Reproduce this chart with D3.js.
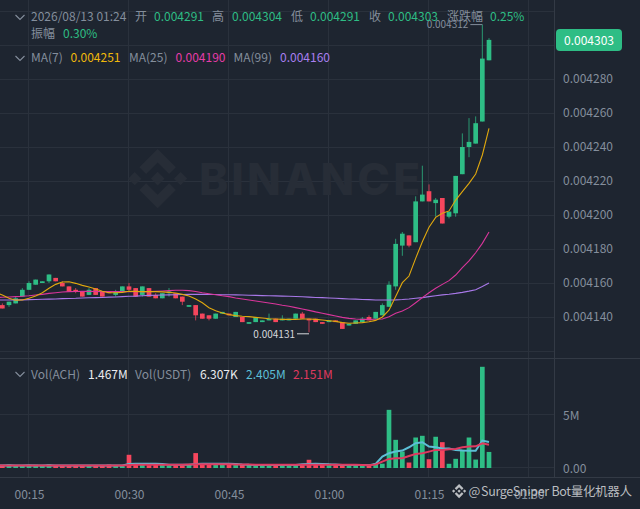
<!DOCTYPE html>
<html><head><meta charset="utf-8">
<script src="https://cdn.jsdelivr.net/npm/d3@7"></script>
<style>
html,body{margin:0;padding:0;background:#1e2530;overflow:hidden}
svg{display:block}
text{font-family:"Noto Sans CJK SC","Noto Sans",sans-serif;font-size:12px}
</style></head><body><svg id="c" width="640" height="509"></svg>
<script>
// prices in units of 0.000001
const opens=[4147,4147,4148,4152,4156,4159,4160,4161,4163,4160,4158,4156,4155,4153,4157,4155,4155,4153,4155,4158,4157,4153,4157,4153,4151,4154,4154,4152,4146,4147,4142,4141,4139,4142,4142,4140,4140,4136,4137,4137,4138,4139,4138,4138,4139,4142,4139,4139,4137,4137,4138,4137,4135,4136,4137,4140,4139,4141,4146,4158,4182,4188,4184,4208,4214,4207,4210,4199,4201,4224,4240,4242,4255,4291];
const highs=[4148,4149,4152,4157,4161,4162,4161,4165,4163,4161,4158,4157,4155,4157,4157,4155,4155,4156,4158,4160,4157,4158,4157,4154,4154,4157,4154,4152,4147,4147,4142,4141,4142,4143,4142,4143,4140,4137,4140,4138,4142,4139,4141,4139,4142,4143,4139,4139,4137,4138,4138,4137,4136,4138,4140,4141,4143,4148,4161,4186,4190,4188,4211,4229,4218,4210,4210,4202,4223,4248,4257,4258,4312,4304];
const lows=[4145,4146,4148,4152,4156,4159,4160,4160,4161,4158,4155,4154,4152,4153,4153,4152,4154,4152,4155,4155,4152,4152,4152,4151,4151,4152,4151,4147,4146,4138,4139,4138,4139,4142,4141,4140,4137,4136,4137,4137,4138,4137,4138,4138,4139,4139,4131,4137,4136,4137,4137,4133,4135,4136,4137,4138,4139,4141,4146,4156,4176,4181,4184,4208,4208,4199,4195,4198,4199,4224,4234,4242,4255,4291];
const closes=[4145,4149,4151,4156,4160,4162,4161,4165,4161,4158,4155,4155,4152,4156,4153,4152,4154,4155,4158,4156,4152,4158,4152,4151,4154,4155,4151,4149,4147,4141,4139,4139,4142,4143,4141,4143,4137,4137,4140,4138,4139,4137,4139,4139,4142,4139,4138,4137,4136,4138,4137,4133,4136,4138,4139,4138,4143,4147,4159,4183,4189,4182,4208,4212,4208,4209,4195,4202,4223,4240,4243,4254,4292,4303];
// moving averages start one minute before the first candle
const ma7=[4154.5,4152.9,4151,4149.9,4150,4151,4152.4,4154.3,4156.9,4159.2,4160.6,4160.7,4159.8,4158.6,4157.6,4156.5,4155.1,4154.3,4154.3,4154.5,4155.1,4155.1,4154.9,4154.9,4154.9,4154.8,4154.5,4154.1,4153.3,4152.3,4150.6,4148.4,4145.5,4143.7,4142.3,4141.4,4140.8,4140.4,4140.2,4139.8,4139.4,4139,4138.8,4138.6,4138.6,4138.6,4138.8,4138.8,4138.6,4138.2,4137.8,4137.4,4136.7,4136.3,4136.5,4136.7,4137.2,4138,4140,4144,4152,4160.2,4164.1,4174.5,4184.3,4192.8,4198.6,4201,4202.4,4208.8,4213.7,4218.6,4224.1,4235.3,4251];
const ma25=[4151.5,4151.6,4151.8,4152,4152.2,4152.5,4152.9,4153.3,4153.9,4154.3,4154.7,4154.9,4155,4155.1,4155.1,4155,4154.9,4154.9,4154.9,4154.9,4154.9,4154.9,4154.9,4154.9,4155.1,4155.3,4155.5,4155.7,4155.7,4155.5,4155,4154.3,4153.7,4153.1,4152.5,4152,4151.2,4150.6,4150,4149.4,4148.8,4148.2,4147.6,4146.9,4146.3,4145.5,4144.7,4143.9,4143,4142.2,4141.4,4140.6,4139.8,4139.2,4138.8,4138.6,4138.6,4138.7,4138.8,4140.2,4142.2,4143.5,4145.5,4148.4,4151.4,4154.3,4156.9,4159.2,4161.4,4164.7,4169,4173,4177.8,4183.3,4190];
const ma99=[4150,4150,4150,4150.1,4150.1,4150.2,4150.3,4150.4,4150.5,4150.6,4150.8,4150.9,4151,4151.2,4151.3,4151.4,4151.5,4151.7,4151.8,4152,4152.2,4152.3,4152.5,4152.7,4152.8,4152.9,4153,4153.1,4153.2,4153.3,4153.3,4153.3,4153.2,4153.2,4153.1,4153.1,4153,4152.9,4152.8,4152.7,4152.6,4152.5,4152.4,4152.3,4152.2,4152.1,4151.9,4151.7,4151.5,4151.4,4151.2,4151,4150.8,4150.6,4150.5,4150.3,4150.2,4150,4150,4150,4150.1,4150.3,4150.6,4151,4151.4,4152,4152.5,4153,4153.4,4153.9,4154.5,4155.2,4156,4157.9,4160];
// volumes in millions
const vols=[0.25,0.28,0.18,0.22,0.2,0.26,0.18,0.3,0.2,0.16,0.22,0.18,0.2,0.24,0.15,0.2,0.28,0.22,0.18,1.2,0.3,0.25,0.22,0.3,0.28,0.2,0.32,0.2,0.26,1.36,0.32,0.3,0.3,0.34,0.32,0.36,0.25,0.34,0.22,0.3,0.2,0.24,0.26,0.22,0.3,0.22,0.73,0.3,0.34,0.36,0.22,0.25,0.2,0.28,0.22,0.2,0.4,0.36,5.44,2.61,1.51,0.47,2.83,2.99,0.78,2.9,2.39,0.35,0.82,1.67,2.83,0.75,9.5,1.467];
const volMaA=[0.2,0.2,0.21,0.2,0.2,0.21,0.2,0.2,0.21,0.2,0.19,0.2,0.19,0.2,0.2,0.19,0.2,0.2,0.2,0.2,0.34,0.36,0.36,0.36,0.36,0.34,0.27,0.26,0.25,0.26,0.33,0.36,0.36,0.36,0.36,0.36,0.34,0.28,0.25,0.24,0.24,0.23,0.24,0.24,0.24,0.24,0.3,0.33,0.36,0.34,0.3,0.28,0.24,0.23,0.24,0.24,0.22,0.34,1.03,1.35,1.5,1.6,1.91,2.29,2.38,1.97,1.91,1.79,1.79,1.66,1.6,1.57,1.57,2.54,2.405];
const volMaB=[0.19,0.19,0.19,0.19,0.19,0.19,0.19,0.19,0.19,0.19,0.19,0.19,0.19,0.19,0.19,0.19,0.19,0.19,0.2,0.2,0.24,0.25,0.26,0.26,0.26,0.26,0.26,0.27,0.27,0.28,0.3,0.3,0.3,0.3,0.3,0.3,0.29,0.28,0.28,0.27,0.27,0.26,0.26,0.26,0.26,0.26,0.26,0.27,0.27,0.27,0.26,0.26,0.26,0.26,0.25,0.24,0.22,0.28,0.56,0.81,0.88,0.88,1.09,1.28,1.35,1.5,1.66,1.66,1.73,1.75,1.91,1.97,2,2.29,2.151];
const firstMinute=11;
const priceTicks=[4140,4160,4180,4200,4220,4240,4260,4280];
const gridPrices=[4120,4140,4160,4180,4200,4220,4240,4260,4280,4300,4320];
const volTicks=[0,5];
const volTickLabels=["0.00","5M"];
const timeTicks=[15,30,45,60,75,90];
const timeLabels=["00:15","00:30","00:45","01:00","01:15","01:30"];
const headerLabel="2026/08/13 01:24";

const GREEN="#2ebd85",RED="#f6465d",GREY="#848e9c";
const svg=d3.select("#c");
const x=d3.scaleLinear().domain([15,90]).range([29,529]);
const y=d3.scaleLinear().domain([4140,4280]).range([317,79]);
const yV=d3.scaleLinear().domain([0,5]).range([467.5,414.5]);
const bw=4.67;
const mx=i=>x(firstMinute+i);

const defs=svg.append("defs");
defs.append("clipPath").attr("id","mc").append("rect").attr("x",0).attr("y",0).attr("width",554).attr("height",358);
defs.append("clipPath").attr("id","vc").append("rect").attr("x",0).attr("y",359).attr("width",554).attr("height",118);

// grid
const grid=svg.append("g").attr("stroke","#2a313c").attr("stroke-width",1);
gridPrices.forEach(p=>grid.append("line").attr("x1",0).attr("x2",554).attr("y1",Math.round(y(p))+.5).attr("y2",Math.round(y(p))+.5));
[0,5].forEach(v=>grid.append("line").attr("x1",0).attr("x2",554).attr("y1",Math.round(yV(v))-.5).attr("y2",Math.round(yV(v))-.5));
timeTicks.forEach(t=>grid.append("line").attr("x1",Math.round(x(t))-.5).attr("x2",Math.round(x(t))-.5).attr("y1",0).attr("y2",477));
const frame=svg.append("g").attr("stroke","#333a45").attr("stroke-width",1);
frame.append("line").attr("x1",0).attr("x2",640).attr("y1",358.5).attr("y2",358.5);
frame.append("line").attr("x1",0).attr("x2",640).attr("y1",477.5).attr("y2",477.5);
frame.append("line").attr("x1",554.5).attr("x2",554.5).attr("y1",0).attr("y2",477);

// BINANCE watermark
const logoPath="M38.73 53.2l24.59-24.58 24.6 24.6 14.3-14.31L63.32 0 24.43 38.9zM0 63.31l14.3-14.31 14.31 14.31-14.31 14.3zM38.73 73.41l24.59 24.59 24.6-24.6 14.31 14.29-38.9 38.91-38.91-38.88-.02-.02zM98 63.31l14.3-14.31 14.31 14.3-14.31 14.32zM77.83 63.3L63.32 48.78 52.59 59.51l-1.24 1.23-2.54 2.54 14.51 14.5 14.51-14.47z";
svg.append("path").attr("d",logoPath).attr("transform","translate(128,149) scale(0.468)").attr("fill","#272d37");
svg.append("text").text("BINANCE").attr("x",199).attr("y",195).attr("fill","#272d37")
 .style("font-family","Inter").style("font-weight",800).style("font-size","44px").attr("textLength",221).attr("lengthAdjust","spacing");

// candles
const idx=d3.range(opens.length);
const main=svg.append("g").attr("clip-path","url(#mc)");
const col=i=>closes[i]>=opens[i]?GREEN:RED;
main.selectAll("line.w").data(idx).join("line").attr("class","w")
 .attr("x1",mx).attr("x2",mx).attr("y1",i=>y(highs[i])).attr("y2",i=>y(lows[i]))
 .attr("stroke",col).attr("stroke-width",1).attr("stroke-opacity",.75);
main.selectAll("rect.b").data(idx).join("rect").attr("class","b")
 .attr("x",i=>mx(i)-bw/2).attr("width",bw)
 .attr("y",i=>y(Math.max(opens[i],closes[i])))
 .attr("height",i=>Math.max(1,Math.abs(y(opens[i])-y(closes[i]))))
 .attr("fill",col);
const line=d3.line().x((d,i)=>mx(i-1)).y(d=>y(d));
[[ma99,"#a878e8"],[ma25,"#d9359b"],[ma7,"#e0a80e"]].forEach(([a,c])=>
 main.append("path").attr("d",line(a)).attr("fill","none").attr("stroke",c).attr("stroke-width",1.1));

// high/low markers
const hiI=d3.greatest(idx,i=>highs[i]), loI=d3.least(idx,i=>lows[i]);
svg.append("line").attr("x1",mx(hiI)-12).attr("x2",mx(hiI)).attr("y1",y(highs[hiI])).attr("y2",y(highs[hiI])).attr("stroke",GREY);
svg.append("text").text((highs[hiI]/1e6).toFixed(6)).attr("x",mx(hiI)-14).attr("y",y(highs[hiI])+3.5).attr("text-anchor","end").attr("fill",GREY).style("font-size","10px");
svg.append("line").attr("x1",mx(loI)-12).attr("x2",mx(loI)).attr("y1",y(lows[loI])+1.5).attr("y2",y(lows[loI])+1.5).attr("stroke","#d5d8dc");
svg.append("text").text((lows[loI]/1e6).toFixed(6)).attr("x",mx(loI)-14).attr("y",y(lows[loI])+5.5).attr("text-anchor","end").attr("fill","#d5d8dc").style("font-size","10px");

// volume
const vg=svg.append("g").attr("clip-path","url(#vc)");
vg.selectAll("rect").data(idx).join("rect")
 .attr("x",i=>mx(i)-bw/2).attr("width",bw)
 .attr("y",i=>yV(vols[i])).attr("height",i=>yV(0)-yV(vols[i])+.5)
 .attr("fill",col);
const vline=d3.line().x((d,i)=>mx(i-1)).y(d=>yV(d));
vg.append("path").attr("d",vline(volMaA)).attr("fill","none").attr("stroke","#5cbfd6").attr("stroke-width",2);
vg.append("path").attr("d",vline(volMaB)).attr("fill","none").attr("stroke","#e0395f").attr("stroke-width",2);

// axes
const axP=svg.append("g").attr("transform","translate(555,0)")
 .call(d3.axisRight(y).tickValues(priceTicks).tickFormat(d=>(d/1e6).toFixed(6)).tickSize(0).tickPadding(8));
const axV=svg.append("g").attr("transform","translate(555,1)")
 .call(d3.axisRight(yV).tickValues(volTicks).tickFormat((d,i)=>volTickLabels[i]).tickSize(0).tickPadding(8));
const axT=svg.append("g").attr("transform","translate(0,490)")
 .call(d3.axisBottom(x).tickValues(timeTicks).tickFormat((d,i)=>timeLabels[i]).tickSize(0).tickPadding(0));
[axP,axV,axT].forEach(a=>{a.select(".domain").remove();a.selectAll("text").attr("fill",GREY).style("font-size","12px").style("font-family",'"Noto Sans CJK SC"');});

// price tag
svg.append("rect").attr("x",556).attr("y",29).attr("width",66).attr("height",22).attr("rx",4).attr("fill",GREEN);
svg.append("text").text((closes[closes.length-1]/1e6).toFixed(6)).attr("x",589).attr("y",44.5).attr("text-anchor","middle").attr("fill","#fff");

// legend
const T=(s,xx,yy,c)=>svg.append("text").text(s).attr("x",xx).attr("y",yy).attr("fill",c);
const f=v=>(v/1e6).toFixed(6);
const L=closes.length-1;
T(headerLabel,31,21,GREY);
T("开",135,21,GREY);T(f(opens[L]),154,21,GREEN);
T("高",212,21,GREY);T(f(highs[L]),232,21,GREEN);
T("低",291,21,GREY);T(f(lows[L]),310,21,GREEN);
T("收",369,21,GREY);T(f(closes[L]),388,21,GREEN);
T("涨跌幅",447,21,GREY);T("0.25%",490,21,GREEN);
T("振幅",31,38,GREY);T("0.30%",63,38,GREEN);
T("MA(7)",31,62,GREY);T(f(ma7[ma7.length-1]),70.5,62,"#f0b90b");
T("MA(25)",129,62,GREY);T(f(ma25[ma25.length-1]),175.5,62,"#e63ca8");
T("MA(99)",233.5,62,GREY);T(f(ma99[ma99.length-1]),280,62,"#a97ff0");
T("Vol(ACH)",31,379,GREY);T("1.467M",88,379,"#eaecef");
T("Vol(USDT)",135,379,GREY);T("6.307K",200,379,"#eaecef");
T("2.405M",246,379,"#5cbfd6");T("2.151M",293,379,"#e0395f");
// chevrons
[[20,17],[20,58],[20,374]].forEach(([cx,cy])=>svg.append("path")
 .attr("d",`M${cx-4.5} ${cy-2}L${cx} ${cy+2.5}L${cx+4.5} ${cy-2}`).attr("fill","none").attr("stroke",GREY).attr("stroke-width",1.1));

// credit watermark
svg.append("path").attr("d",logoPath).attr("transform","translate(452,484) scale(0.112)").attr("fill","#d8dadd").attr("fill-opacity",.85);
svg.append("text").text("@").attr("x",468.5).attr("y",495.5).attr("fill","#d8dadd").attr("fill-opacity",.85).style("font-size","12.5px");
svg.append("text").text("SurgeSniper Bot量化机器人").attr("x",481).attr("y",495.5).attr("fill","#d8dadd").attr("fill-opacity",.85).style("font-size","12.5px").attr("textLength",151).attr("lengthAdjust","spacing");
</script></body></html>
